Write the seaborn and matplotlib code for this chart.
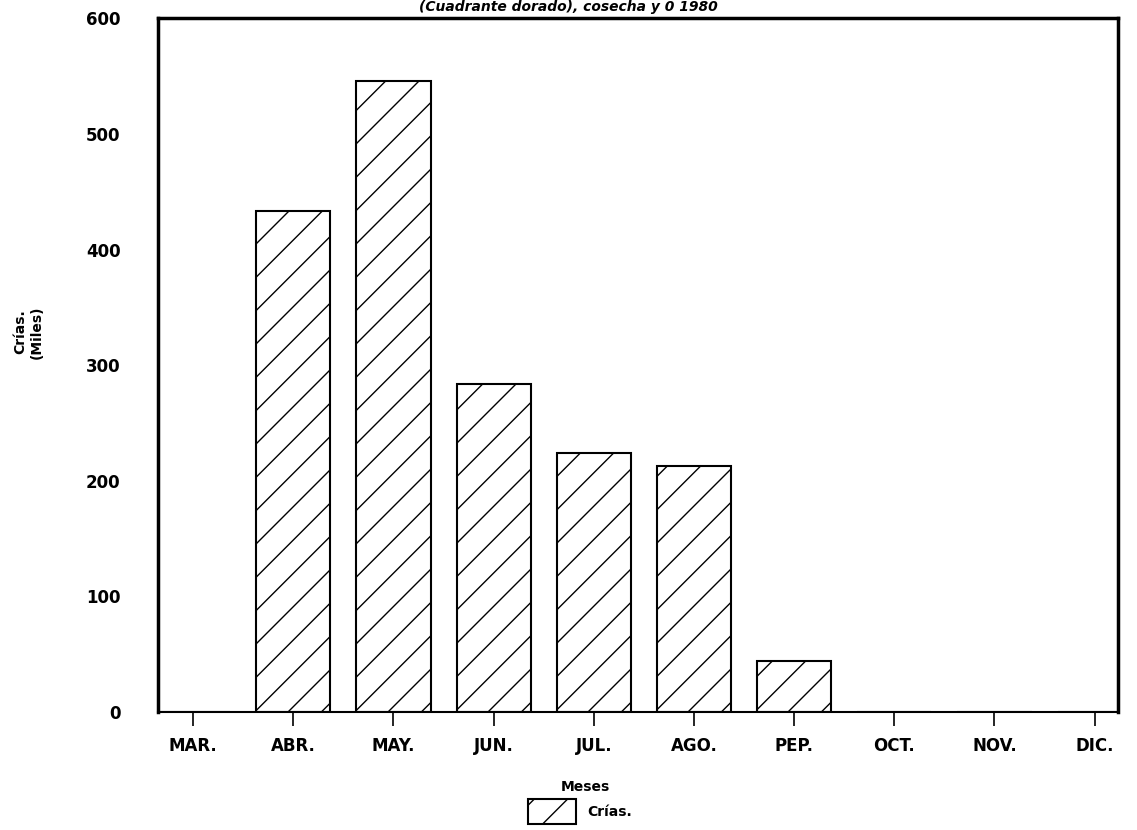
import matplotlib
matplotlib.use("Agg")
import matplotlib.pyplot as plt
from matplotlib.patches import Patch
import seaborn as sns
import pandas as pd

meses = ['MAR.', 'ABR.', 'MAY.', 'JUN.', 'JUL.', 'AGO.', 'PEP.', 'OCT.', 'NOV.', 'DIC.']
crias = [0, 433, 546, 284, 224, 213, 44, 0, 0, 0]
yticks = [0, 100, 200, 300, 400, 500, 600]
ytick_labels = ['0', '100', '200', '300', '400', '500', '600']

sns.set_theme(style='white')
plt.rcParams['font.family'] = ['Liberation Sans Narrow', 'DejaVu Sans']
plt.rcParams['hatch.linewidth'] = 1.0
plt.rcParams['text.color'] = 'black'
plt.rcParams['xtick.color'] = 'black'
plt.rcParams['ytick.color'] = 'black'

df = pd.DataFrame({'mes': meses, 'crias': crias})

fig = plt.figure(figsize=(11.37, 8.30), dpi=100)
ax = fig.add_axes([0.139, 0.142, 0.844, 0.836])

sns.barplot(data=df, x='mes', y='crias', color='white', edgecolor='black',
            linewidth=1.5, width=0.74, hatch='/', ax=ax, saturation=1)

ax.set_xlim(-0.35, 9.23)
ax.set_ylim(0, 600)
ax.set_yticks(yticks)
ax.set_yticklabels(ytick_labels, fontsize=12, fontweight='bold')
ax.set_xticks(range(len(meses)))
ax.set_xticklabels(meses, fontsize=12, fontweight='bold')
ax.tick_params(axis='x', bottom=True, direction='out', length=10, width=1.2,
               color='black', pad=8)
ax.tick_params(axis='y', left=False, length=0, pad=27)

for side in ['left', 'top', 'right']:
    ax.spines[side].set_linewidth(2.5)
    ax.spines[side].set_color('black')
ax.spines['bottom'].set_linewidth(1.5)
ax.spines['bottom'].set_color('black')

ax.set_xlabel('')
ax.set_ylabel('')

fig.text(0.025, 0.60, 'Crías.\n(Miles)', rotation=90, ha='center', va='center',
         fontsize=10, fontweight='bold')
fig.text(0.515, 0.052, 'Meses', ha='center', va='center', fontsize=10, fontweight='bold')
fig.text(0.5, 0.992, '(Cuadrante dorado), cosecha y 0 1980', ha='center', va='center',
         fontsize=10, fontweight='bold', style='italic')

fig.legend(handles=[Patch(facecolor='white', edgecolor='black', hatch='/', linewidth=1.5)],
           labels=['Crías.'], loc='center', bbox_to_anchor=(0.51, 0.022), frameon=False,
           handlelength=3.5, handleheight=2.4, prop={'size': 10, 'weight': 'bold'})

fig.savefig('out.png', dpi=100)
